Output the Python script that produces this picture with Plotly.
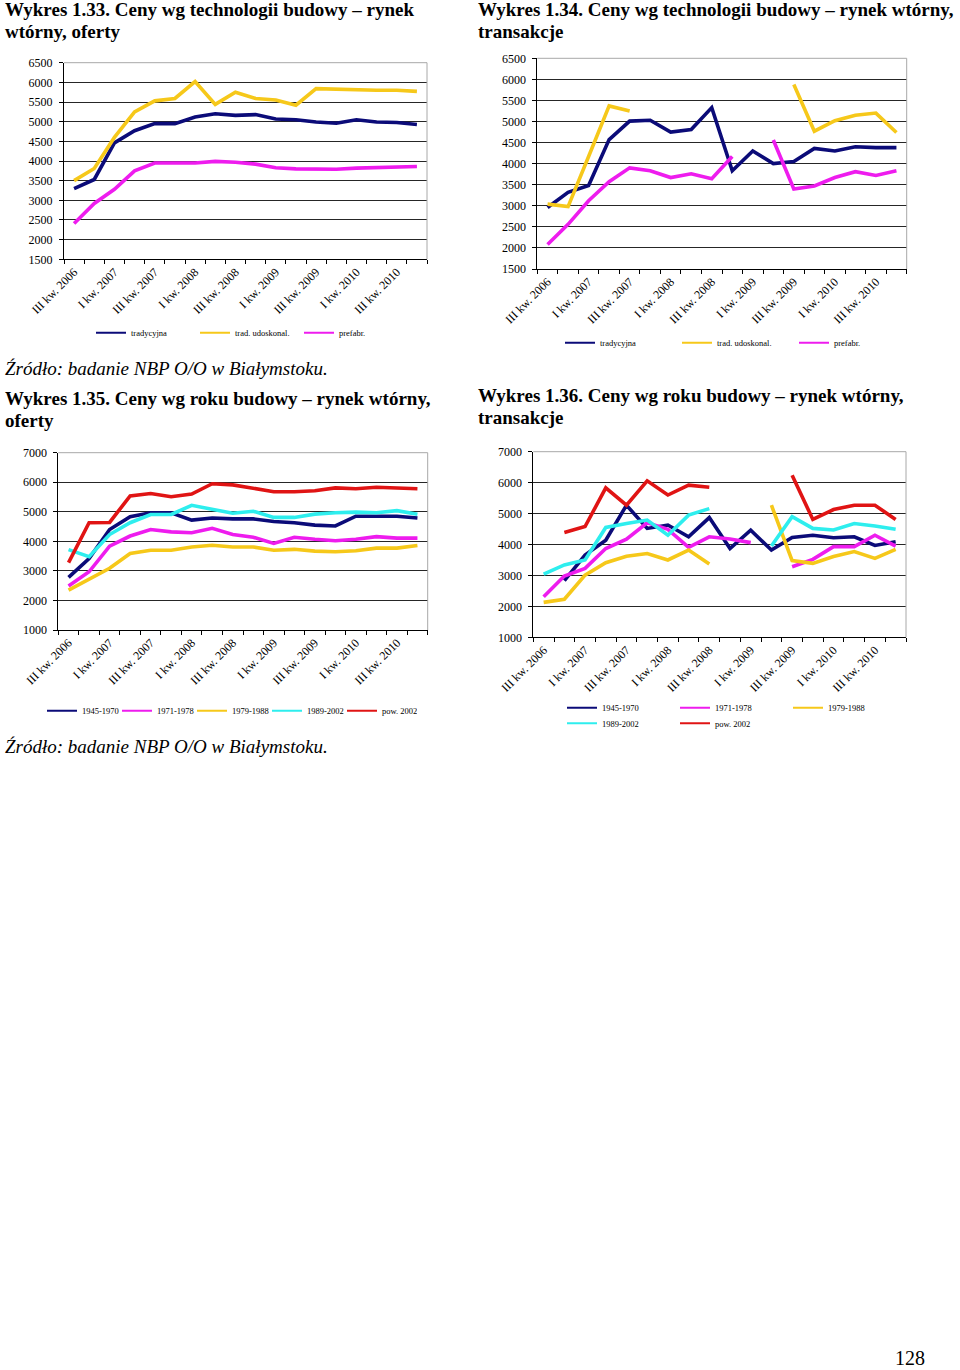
import plotly.graph_objects as go

# ---------------- data ----------------
quarters = ["III kw. 2006", "IV kw. 2006", "I kw. 2007", "II kw. 2007", "III kw. 2007",
            "IV kw. 2007", "I kw. 2008", "II kw. 2008", "III kw. 2008", "IV kw. 2008",
            "I kw. 2009", "II kw. 2009", "III kw. 2009", "IV kw. 2009", "I kw. 2010",
            "II kw. 2010", "III kw. 2010", "IV kw. 2010"]
tick_labels = quarters[::2]

tech_names = ["tradycyjna", "trad. udoskonal.", "prefabr."]
year_names = ["1945-1970", "1971-1978", "1979-1988", "1989-2002", "pow. 2002"]

# Wykres 1.33 - oferty
c1_tradycyjna = [3300, 3530, 4460, 4770, 4950, 4950, 5120, 5200, 5160, 5180, 5070, 5050, 4990, 4960, 5050, 4990, 4980, 4930]
c1_trad_udosk = [3500, 3810, 4600, 5250, 5530, 5590, 6020, 5440, 5750, 5590, 5550, 5420, 5840, 5820, 5800, 5800, 5800, 5770]
c1_prefabr = [2410, 2920, 3280, 3750, 3950, 3950, 3950, 3990, 3970, 3920, 3830, 3800, 3790, 3790, 3820, 3840, 3860, 3860]

# Wykres 1.34 - transakcje
c2_tradycyjna = [2960, 3320, 3480, 4570, 5010, 5030, 4750, 4810, 5330, 3830, 4300, 4000, 4050, 4360, 4300, 4400, 4380, 4380]
c2_trad_udosk = [3040, 2980, 4170, 5370, 5250, None, None, None, None, None, None, None, 5880, 4770, 5020, 5150, 5200, 4740]
c2_prefabr = [2080, 2560, 3120, 3570, 3900, 3830, 3670, 3760, 3640, 4170, None, 4560, 3400, 3470, 3670, 3810, 3720, 3830]

# Wykres 1.35 - oferty
c3_1945 = [2780, 3420, 4400, 4830, 4970, 4970, 4720, 4790, 4760, 4760, 4670, 4630, 4550, 4520, 4850, 4850, 4850, 4790]
c3_1971 = [2490, 2970, 3840, 4180, 4400, 4320, 4290, 4440, 4230, 4140, 3930, 4140, 4070, 4020, 4070, 4160, 4110, 4110]
c3_1979 = [2350, 2710, 3090, 3590, 3700, 3700, 3810, 3870, 3810, 3810, 3700, 3730, 3670, 3650, 3680, 3770, 3770, 3860]
c3_1989 = [3720, 3480, 4230, 4630, 4910, 4910, 5220, 5080, 4950, 5020, 4810, 4810, 4920, 4970, 4990, 4970, 5040, 4920]
c3_pow2002 = [3280, 4630, 4640, 5540, 5620, 5510, 5600, 5950, 5910, 5790, 5680, 5680, 5710, 5810, 5780, 5830, 5810, 5780]

# Wykres 1.36 - transakcje
c4_1945 = [None, 2830, 3660, 4140, 5270, 4520, 4630, 4250, 4870, 3870, 4460, 3820, 4230, 4300, 4220, 4250, 3970, 4090]
c4_1971 = [2310, 2980, 3230, 3870, 4170, 4700, 4490, 3910, 4250, 4180, 4060, None, 3280, 3520, 3930, 3930, 4300, 3950]
c4_1979 = [2130, 2230, 3010, 3410, 3620, 3710, 3500, 3820, 3370, None, None, 5270, 3480, 3390, 3610, 3770, 3550, 3840]
c4_1989 = [3040, 3340, 3500, 4550, 4680, 4790, 4300, 4950, 5160, None, None, 3950, 4900, 4520, 4470, 4680, 4600, 4490]
c4_pow2002 = [None, 4390, 4580, 5830, 5270, 6060, 5600, 5920, 5850, None, None, None, 6240, 4810, 5130, 5270, 5270, 4810]

# ---------------- style ----------------
W, H = 960, 1370
NAVY, YELLOW, MAGENTA, CYAN, RED = "#0B0B78", "#F6C81A", "#EE1CEE", "#2EEEEE", "#E01414"
SERIF = "Liberation Serif"
LW = 3.6


def fx(px):
    return px / W


def fy(py):
    return 1 - py / H


fig = go.Figure()

# subplot boxes in page pixels: (left, right, top, bottom)
panels = [
    dict(box=(64, 427, 62.7, 259.3), yr=(1500, 6500), dt=500,
         series=[c1_tradycyjna, c1_trad_udosk, c1_prefabr], names=tech_names,
         colors=[NAVY, YELLOW, MAGENTA]),
    dict(box=(537.3, 906.7, 58.3, 269), yr=(1500, 6500), dt=500,
         series=[c2_tradycyjna, c2_trad_udosk, c2_prefabr], names=tech_names,
         colors=[NAVY, YELLOW, MAGENTA]),
    dict(box=(58.3, 427.7, 452.7, 630), yr=(1000, 7000), dt=1000,
         series=[c3_1945, c3_1971, c3_1979, c3_1989, c3_pow2002], names=year_names,
         colors=[NAVY, MAGENTA, YELLOW, CYAN, RED]),
    dict(box=(533.3, 906, 451.7, 637.3), yr=(1000, 7000), dt=1000,
         series=[c4_1945, c4_1971, c4_1979, c4_1989, c4_pow2002], names=year_names,
         colors=[NAVY, MAGENTA, YELLOW, CYAN, RED]),
]

# legend placement: (legend id, x px of legend box, y px center, entrywidth, series indices)
legend_specs = [
    [("legend", 91, 332.7, 59, [0, 1, 2])],
    [("legend2", 560, 342.7, 72, [0, 1, 2])],
    [("legend3", 42, 710.7, 30, [0, 1, 2, 3, 4])],
    [("legend4", 562, 707.7, 68, [0, 1, 2]), ("legend5", 562, 723.3, 68, [3, 4])],
]

xs = list(range(len(quarters)))
shapes = []
layout_axes = {}
legends = {}

for k, p in enumerate(panels):
    n = "" if k == 0 else str(k + 1)
    l, r, t, b = p["box"]
    layout_axes["xaxis" + n] = dict(
        domain=[fx(l), fx(r)], anchor="y" + n, range=[-0.5, 17.5], automargin=False,
        tickmode="array", tickvals=list(range(0, 18, 2)), ticktext=tick_labels,
        tickangle=-45, ticks="", showgrid=False, zeroline=False,
        showline=True, linecolor="black", linewidth=1,
        tickfont=dict(family=SERIF, size=12, color="black"),
        minor=dict(tickmode="array", tickvals=[i - 0.5 for i in range(19)],
                   ticks="outside", ticklen=4, tickcolor="black", showgrid=False),
        fixedrange=True,
    )
    layout_axes["yaxis" + n] = dict(
        domain=[fy(b), fy(t)], anchor="x" + n, range=list(p["yr"]), automargin=False,
        tick0=p["yr"][0], dtick=p["dt"], ticks="outside", ticklen=4, tickcolor="black",
        showgrid=True, gridcolor="#262626", gridwidth=1, zeroline=False,
        showline=True, linecolor="black", linewidth=1, ticklabelstandoff=4,
        tickfont=dict(family=SERIF, size=12, color="black"), fixedrange=True,
    )
    # grey frame on top and right
    for (x0, y0, x1, y1) in [(0, 1, 1, 1), (1, 0, 1, 1)]:
        shapes.append(dict(type="line", xref="x%s domain" % n, yref="y%s domain" % n,
                           x0=x0, y0=y0, x1=x1, y1=y1, line=dict(color="#A8A8A8", width=1),
                           layer="above"))
    # data traces
    for s, name, col in zip(p["series"], p["names"], p["colors"]):
        fig.add_trace(go.Scatter(x=xs, y=s, mode="lines", name=name, showlegend=False,
                                 line=dict(color=col, width=LW), connectgaps=False,
                                 xaxis="x" + n, yaxis="y" + n, hoverinfo="x+y"))
    # legends
    for (lid, lx, ly, ew, idxs) in legend_specs[k]:
        legends[lid] = dict(orientation="h", x=fx(lx), y=fy(ly), xanchor="left", yanchor="middle",
                            font=dict(family=SERIF, size=8.5, color="black"),
                            entrywidth=ew, entrywidthmode="pixels", itemwidth=30,
                            bgcolor="rgba(0,0,0,0)", borderwidth=0, traceorder="normal")
        for i in idxs:
            fig.add_trace(go.Scatter(x=[None], y=[None], mode="lines", name=p["names"][i],
                                     line=dict(color=p["colors"][i], width=2),
                                     xaxis="x" + n, yaxis="y" + n, legend=lid, showlegend=True))

# ---------------- texts ----------------
texts = [
    ("<b>Wykres 1.33. Ceny wg technologii budowy – rynek</b>", 4, 9, 19, "middle"),
    ("<b>wtórny, oferty</b>", 4, 31, 19, "middle"),
    ("<b>Wykres 1.34. Ceny wg technologii budowy – rynek wtórny,</b>", 477, 9, 19, "middle"),
    ("<b>transakcje</b>", 477, 31, 19, "middle"),
    ("<i>Źródło: badanie NBP O/O w Białymstoku.</i>", 4, 368.5, 19, "middle"),
    ("<b>Wykres 1.35. Ceny wg roku budowy – rynek wtórny,</b>", 4, 398.5, 19, "middle"),
    ("<b>oferty</b>", 4, 420.5, 19, "middle"),
    ("<b>Wykres 1.36. Ceny wg roku budowy – rynek wtórny,</b>", 477, 395.5, 19, "middle"),
    ("<b>transakcje</b>", 477, 417.5, 19, "middle"),
    ("<i>Źródło: badanie NBP O/O w Białymstoku.</i>", 4, 746.5, 19, "middle"),
    ("128", 894, 1370, 20, "bottom"),
]
annotations = [dict(text=t, x=fx(x), y=fy(y), xref="paper", yref="paper", xanchor="left",
                    yanchor=ya, showarrow=False, borderpad=0,
                    font=dict(family=SERIF, size=s, color="black"))
               for (t, x, y, s, ya) in texts]

fig.update_layout(
    width=W, height=H, autosize=False,
    margin=dict(l=0, r=0, t=0, b=0, autoexpand=False),
    paper_bgcolor="white", plot_bgcolor="white",
    shapes=shapes, annotations=annotations,
    **layout_axes, **legends,
)

fig.write_html("out.html", config={"displayModeBar": False, "staticPlot": True},
               post_script="document.body.style.margin='0';document.body.style.overflow='hidden';")
